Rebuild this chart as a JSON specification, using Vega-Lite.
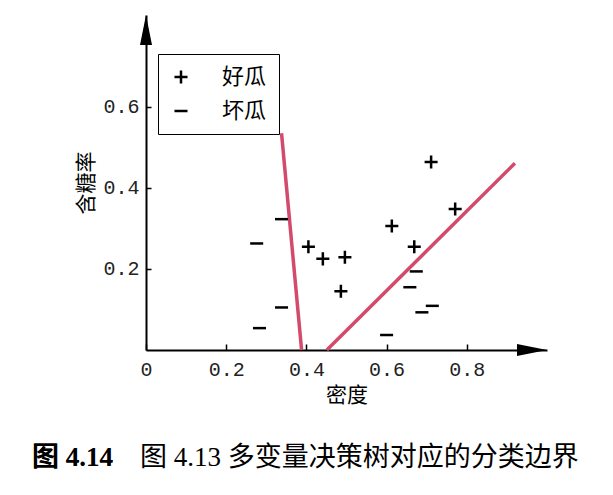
{
  "$schema": "https://vega.github.io/schema/vega-lite/v6.json",
  "width": 401,
  "height": 335,
  "autosize": "none",
  "padding": {"left": 146, "top": 15, "right": 66, "bottom": 145},
  "background": "white",
  "config": {"view": {"stroke": null}},
  "title": {
    "text": "图 4.14\u00a0\u00a0\u00a0\u00a0图 4.13 多变量决策树对应的分类边界",
    "subtitle": "图 4.14",
    "orient": "bottom",
    "anchor": "start",
    "frame": "group",
    "dx": -114,
    "offset": 40,
    "font": "Liberation Serif, Noto Sans CJK SC",
    "fontSize": 27,
    "fontWeight": "normal",
    "color": "black",
    "subtitleFont": "Liberation Serif, Noto Sans CJK SC",
    "subtitleFontSize": 27,
    "subtitleFontWeight": "bold",
    "subtitleColor": "black",
    "subtitlePadding": -27
  },
  "datasets": {
    "points": [
      {"density": 0.276, "sugar": 0.263, "label": "坏瓜"},
      {"density": 0.338, "sugar": 0.323, "label": "坏瓜"},
      {"density": 0.338, "sugar": 0.105, "label": "坏瓜"},
      {"density": 0.283, "sugar": 0.054, "label": "坏瓜"},
      {"density": 0.600, "sugar": 0.037, "label": "坏瓜"},
      {"density": 0.674, "sugar": 0.194, "label": "坏瓜"},
      {"density": 0.658, "sugar": 0.155, "label": "坏瓜"},
      {"density": 0.688, "sugar": 0.093, "label": "坏瓜"},
      {"density": 0.714, "sugar": 0.109, "label": "坏瓜"},
      {"density": 0.405, "sugar": 0.255, "label": "好瓜"},
      {"density": 0.441, "sugar": 0.225, "label": "好瓜"},
      {"density": 0.496, "sugar": 0.229, "label": "好瓜"},
      {"density": 0.486, "sugar": 0.145, "label": "好瓜"},
      {"density": 0.613, "sugar": 0.306, "label": "好瓜"},
      {"density": 0.669, "sugar": 0.255, "label": "好瓜"},
      {"density": 0.771, "sugar": 0.348, "label": "好瓜"},
      {"density": 0.711, "sugar": 0.464, "label": "好瓜"}
    ],
    "lines": [
      {"boundary": "a", "density": 0.338, "sugar": 0.535},
      {"boundary": "a", "density": 0.388, "sugar": 0.0},
      {"boundary": "b", "density": 0.451, "sugar": 0.0},
      {"boundary": "b", "density": 0.920, "sugar": 0.461}
    ]
  },
  "layer": [
    {
      "data": {"name": "lines"},
      "mark": {"type": "line", "color": "#d24a6c", "strokeWidth": 3.5},
      "encoding": {
        "x": {
          "field": "density", "type": "quantitative",
          "scale": {"domain": [0, 1], "nice": false},
          "axis": {
            "values": [0, 0.2, 0.4, 0.6, 0.8],
            "labelExpr": "datum.value === 0 ? '0' : format(datum.value, '.1f')",
            "labelFlush": false,
            "grid": false,
            "domainColor": "black", "domainWidth": 2,
            "tickColor": "black", "tickWidth": 1.5, "tickSize": -6,
            "labelPadding": 15,
            "labelFont": "Liberation Mono", "labelFontSize": 20, "labelColor": "#222",
            "title": "密度", "titleFont": "Noto Sans CJK SC", "titleFontSize": 21,
            "titleFontWeight": "normal", "titleColor": "black", "titlePadding": 5,
            "encode": {"labels": {"update": {"dx": {"signal": "datum.value === 0 ? -8 : 0"}}}}
          }
        },
        "y": {
          "field": "sugar", "type": "quantitative",
          "scale": {"domain": [0, 0.827], "nice": false},
          "axis": {
            "values": [0.2, 0.4, 0.6],
            "format": ".1f",
            "labelFlush": false,
            "grid": false,
            "domainColor": "black", "domainWidth": 2,
            "tickColor": "black", "tickWidth": 1.5, "tickSize": -5,
            "labelPadding": 12,
            "labelFont": "Liberation Mono", "labelFontSize": 20, "labelColor": "#222",
            "title": "含糖率", "titleFont": "Noto Sans CJK SC", "titleFontSize": 21,
            "titleFontWeight": "normal", "titleColor": "black", "titlePadding": 6
          }
        },
        "detail": {"field": "boundary", "type": "nominal"}
      }
    },
    {
      "data": {"name": "points"},
      "mark": {"type": "point", "filled": false, "strokeWidth": 2.5, "color": "black", "size": 170, "opacity": 1},
      "encoding": {
        "x": {"field": "density", "type": "quantitative"},
        "y": {"field": "sugar", "type": "quantitative"},
        "shape": {
          "field": "label", "type": "nominal",
          "scale": {"domain": ["好瓜", "坏瓜"], "range": ["M-1,0H1M0,-1V1", "M-1,0H1"]},
          "legend": {
            "orient": "none", "legendX": 12, "legendY": 39,
            "title": null,
            "padding": 12,
            "strokeColor": "black", "fillColor": "white",
            "labelFont": "Noto Sans CJK SC", "labelFontSize": 22, "labelColor": "black",
            "labelOffset": 30,
            "symbolSize": 170, "symbolStrokeWidth": 2.5, "symbolStrokeColor": "black",
            "rowPadding": 11,
            "encode": {"legend": {"update": {"strokeWidth": {"value": 1.5}}}}
          }
        }
      }
    },
    {
      "data": {"values": [{}]},
      "mark": {"type": "point", "shape": "M0,0L-2,-0.4L-2,0.4Z", "filled": true, "color": "black", "size": 900, "opacity": 1},
      "encoding": {
        "x": {"datum": 1, "type": "quantitative"},
        "y": {"datum": 0, "type": "quantitative"}
      }
    },
    {
      "data": {"values": [{}]},
      "mark": {"type": "point", "shape": "M0,0L-0.4,2L0.4,2Z", "filled": true, "color": "black", "size": 900, "opacity": 1},
      "encoding": {
        "x": {"datum": 0, "type": "quantitative"},
        "y": {"datum": 0.827, "type": "quantitative"}
      }
    }
  ]
}
